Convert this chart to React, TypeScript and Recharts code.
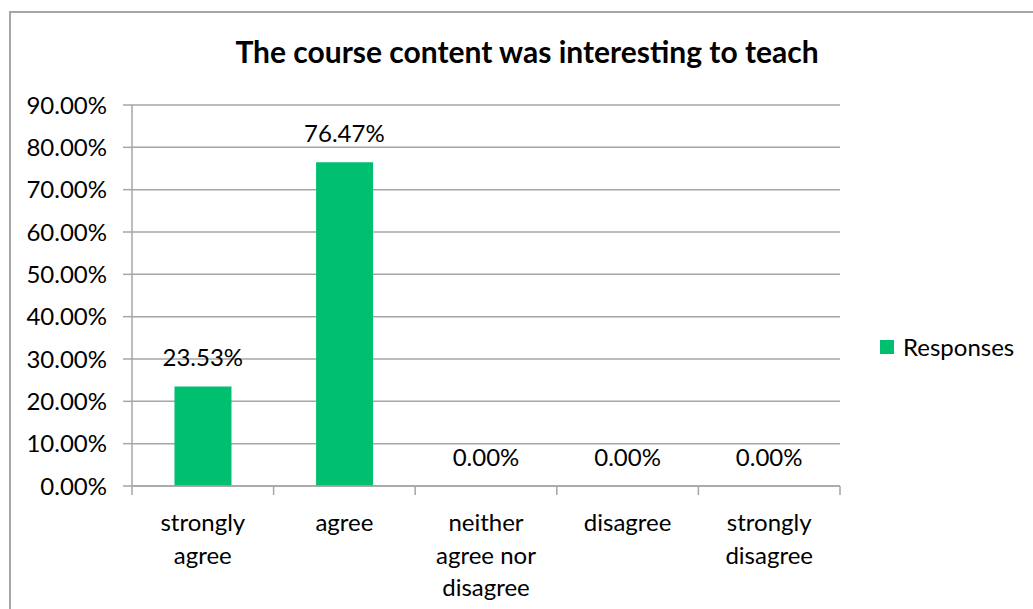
import { ComposedChart, Bar, Line, XAxis, YAxis, CartesianGrid, Legend, LabelList } from 'recharts';

const CATEGORIES = ['strongly agree', 'agree', 'neither agree nor disagree', 'disagree', 'strongly disagree'];
// how Excel wrapped each label
const CATEGORY_LINES = [
  ['strongly', 'agree'],
  ['agree'],
  ['neither', 'agree nor', 'disagree'],
  ['disagree'],
  ['strongly', 'disagree'],
];
const RESPONSES = [0.2353, 0.7647, 0, 0, 0];
const Y_TICKS = [0, 0.1, 0.2, 0.3, 0.4, 0.5, 0.6, 0.7, 0.8, 0.9];

const GREEN = '#00bf6f';
const GRAY = '#a6a6a6';
const FONT = 'Lato, "Open Sans", sans-serif';
const TEXT = '#000';

const W = 1033;
const H = 609;
const X_HEIGHT = 30;
const MARGIN = { top: 105, right: 43, bottom: 123 - X_HEIGHT, left: 10 };
const Y_WIDTH = 122;
const LEGEND_W = 150;
const BAND = (W - MARGIN.left - Y_WIDTH - MARGIN.right - LEGEND_W) / CATEGORIES.length;

const data = CATEGORIES.map((c, i) => ({ x: c, Responses: RESPONSES[i] }));

const pct = (v: unknown) => `${(Number(v) * 100).toFixed(2)}%`;

function CategoryTick(props: any) {
  const { x, y, index } = props;
  const lines = CATEGORY_LINES[index] || [];
  const half = BAND / 2;
  const last = index === CATEGORIES.length - 1;
  return (
    <g>
      <line x1={x - half} x2={x - half} y1={y} y2={y + 9} stroke={GRAY} strokeWidth={1.5} />
      {last && <line x1={x + half} x2={x + half} y1={y} y2={y + 9} stroke={GRAY} strokeWidth={1.5} />}
      <text x={x} y={y + 45} textAnchor="middle" fontFamily={FONT} fontSize={24} fill={TEXT}>
        {lines.map((l, i) => (
          <tspan key={i} x={x} dy={i === 0 ? 0 : 32.5}>{l}</tspan>
        ))}
      </text>
    </g>
  );
}

function LegendBox() {
  return (
    <div style={{ display: 'flex', alignItems: 'center', fontFamily: FONT, fontSize: 24, color: TEXT }}>
      <span style={{ width: 14, height: 14, background: GREEN, marginRight: 9, display: 'inline-block' }} />
      <span>Responses</span>
    </div>
  );
}

export default function App() {
  return (
    <div style={{ position: 'absolute', left: 0, top: 0, width: W, height: H, overflow: 'hidden', background: '#fff' }}>
      <div style={{ position: 'absolute', left: 9, top: 11, width: 1100, height: 700, border: `2px solid ${GRAY}` }} />
      <div style={{ position: 'absolute', left: 0, top: 0 }}>
        <ComposedChart width={W} height={H} data={data} margin={MARGIN} barCategoryGap="30%">
          <text x={527} y={63} textAnchor="middle" fontFamily={FONT} fontWeight={700} fontSize={30} fill={TEXT}>
            The course content was interesting to teach
          </text>
          <CartesianGrid vertical={false} stroke={GRAY} strokeWidth={1.5} />
          <XAxis
            dataKey="x"
            interval={0}
            height={X_HEIGHT}
            tickLine={false}
            tickSize={0}
            tickMargin={0}
            axisLine={{ stroke: GRAY, strokeWidth: 1.5 }}
            tick={<CategoryTick />}
          />
          <YAxis
            width={Y_WIDTH}
            domain={[0, 0.9]}
            ticks={Y_TICKS}
            tickFormatter={pct}
            tickSize={9}
            tickMargin={16}
            tickLine={{ stroke: GRAY, strokeWidth: 1.5 }}
            axisLine={{ stroke: GRAY, strokeWidth: 1.5 }}
            tick={{ fontFamily: FONT, fontSize: 24, fill: TEXT }}
          />
          <Legend
            layout="vertical"
            align="right"
            verticalAlign="middle"
            wrapperStyle={{ left: 880, top: 332, width: LEGEND_W }}
            content={() => <LegendBox />}
          />
          <Bar dataKey="Responses" fill={GREEN} isAnimationActive={false} />
          {/* invisible carrier for the data labels, so the 0.00% ones show too */}
          <Line dataKey="Responses" stroke="none" dot={false} activeDot={false} isAnimationActive={false} legendType="none">
            <LabelList
              dataKey="Responses"
              position="top"
              offset={20}
              formatter={pct}
              style={{ fontFamily: FONT, fontSize: 24, fill: TEXT }}
            />
          </Line>
        </ComposedChart>
      </div>
    </div>
  );
}
